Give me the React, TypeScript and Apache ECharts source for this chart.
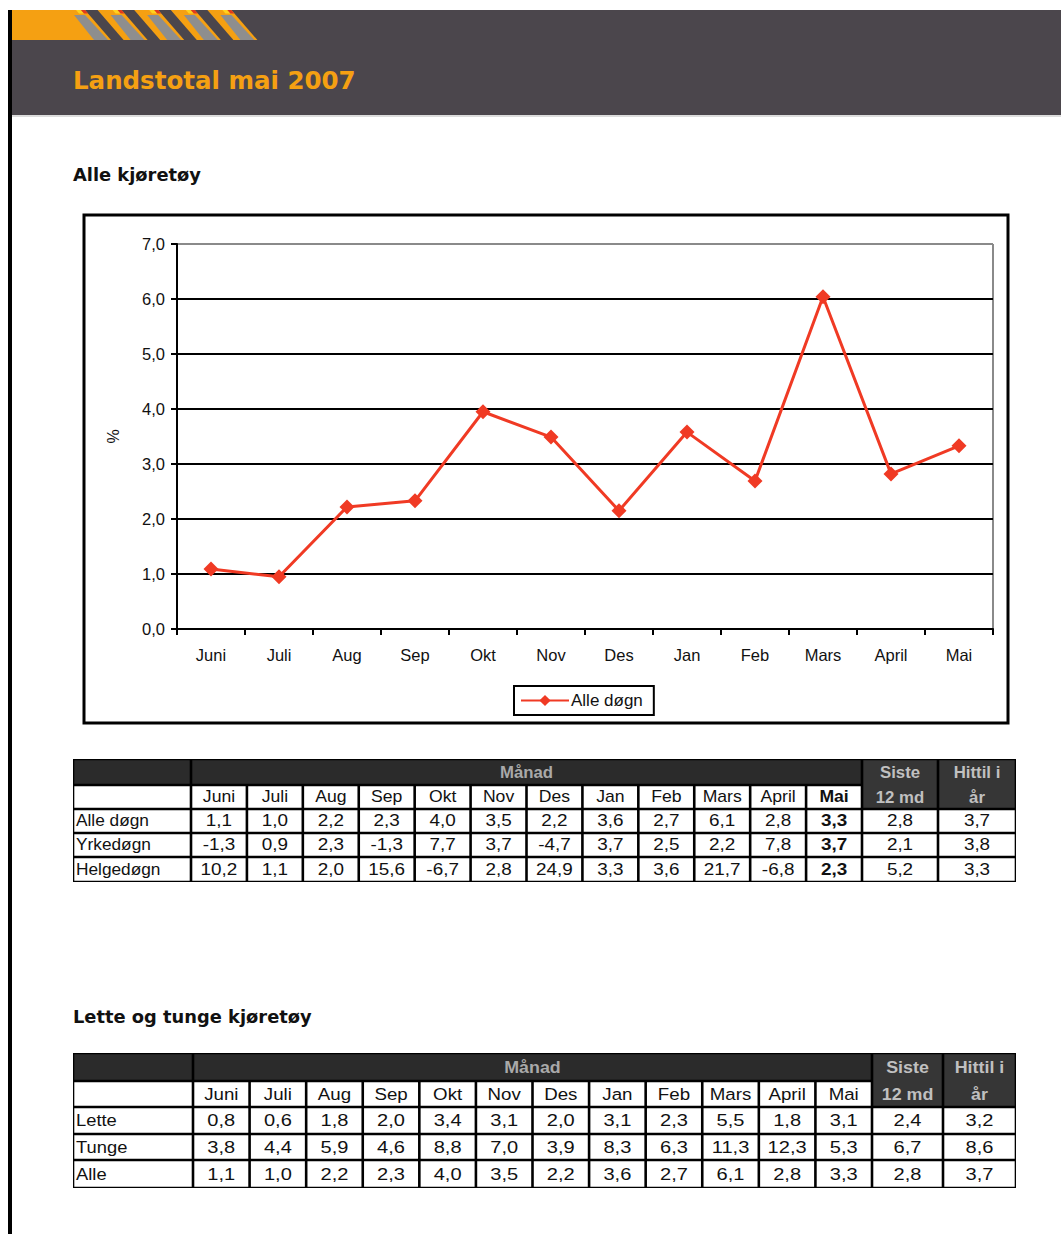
import React, { useEffect, useRef } from "react";
import * as echarts from "echarts";

const months = ["Juni", "Juli", "Aug", "Sep", "Okt", "Nov", "Des", "Jan", "Feb", "Mars", "April", "Mai"];
const lineValues = [1.09, 0.95, 2.22, 2.33, 3.95, 3.49, 2.15, 3.58, 2.69, 6.04, 2.82, 3.33];
const yTicks = [0, 7, 1];

const t1Labels = ["Alle døgn", "Yrkedøgn", "Helgedøgn"];
const t1Alle = [1.1, 1.0, 2.2, 2.3, 4.0, 3.5, 2.2, 3.6, 2.7, 6.1, 2.8, 3.3];
const t1Yrke = [-1.3, 0.9, 2.3, -1.3, 7.7, 3.7, -4.7, 3.7, 2.5, 2.2, 7.8, 3.7];
const t1Helg = [10.2, 1.1, 2.0, 15.6, -6.7, 2.8, 24.9, 3.3, 3.6, 21.7, -6.8, 2.3];
const t1Siste = [2.8, 2.1, 5.2];
const t1Hittil = [3.7, 3.8, 3.3];

const t2Labels = ["Lette", "Tunge", "Alle"];
const t2Lette = [0.8, 0.6, 1.8, 2.0, 3.4, 3.1, 2.0, 3.1, 2.3, 5.5, 1.8, 3.1];
const t2Tunge = [3.8, 4.4, 5.9, 4.6, 8.8, 7.0, 3.9, 8.3, 6.3, 11.3, 12.3, 5.3];
const t2Alle = [1.1, 1.0, 2.2, 2.3, 4.0, 3.5, 2.2, 3.6, 2.7, 6.1, 2.8, 3.3];
const t2Siste = [2.4, 6.7, 2.8];
const t2Hittil = [3.2, 8.6, 3.7];

const FONT = "Liberation Sans, Arial, sans-serif";
const fmt = (v: number) => v.toFixed(1).replace(".", ",");

type TableSpec = {
  x0: number; xLab: number; xMon: number; xSis: number; xEnd: number;
  rows: number[]; labels: string[]; data: number[][]; siste: number[]; hittil: number[];
  fontSize: number; boldMai: boolean;
};

function buildTable(s: TableSpec): any[] {
  const els: any[] = [];
  const b = 1.3;
  const colW = (s.xMon - s.xLab) / 12;
  const y0 = s.rows[0];
  const yEnd = s.rows[s.rows.length - 1];
  const cell = (x1: number, y1: number, x2: number, y2: number, fill: string) => ({
    type: "rect",
    shape: { x: x1 + b, y: y1 + b, width: x2 - x1 - 2 * b, height: y2 - y1 - 2 * b },
    style: { fill },
  });
  const txt = (text: string, x: number, y: number, opts: any = {}) => ({
    type: "text",
    x, y,
    scaleX: opts.scaleX || 1.18,
    style: {
      text,
      fontSize: opts.fontSize || s.fontSize,
      fontFamily: FONT,
      fontWeight: opts.bold ? "bold" : "normal",
      fill: opts.fill || "#111",
      align: opts.align || "center",
      verticalAlign: "middle",
    },
  });
  els.push({ type: "rect", shape: { x: s.x0, y: y0, width: s.xEnd - s.x0, height: yEnd - y0 }, style: { fill: "#000" } });
  els.push(cell(s.x0, s.rows[0], s.xLab, s.rows[1], "#2b2b2b"));
  els.push(cell(s.xLab, s.rows[0], s.xMon, s.rows[1], "#2b2b2b"));
  els.push(cell(s.xMon, s.rows[0], s.xSis, s.rows[2], "#363636"));
  els.push(cell(s.xSis, s.rows[0], s.xEnd, s.rows[2], "#363636"));
  els.push(cell(s.x0, s.rows[1], s.xLab, s.rows[2], "#fff"));
  for (let i = 0; i < 12; i++) {
    els.push(cell(s.xLab + colW * i, s.rows[1], s.xLab + colW * (i + 1), s.rows[2], "#fff"));
  }
  for (let r = 0; r < s.labels.length; r++) {
    const ya = s.rows[r + 2], yb = s.rows[r + 3];
    els.push(cell(s.x0, ya, s.xLab, yb, "#fff"));
    for (let i = 0; i < 12; i++) els.push(cell(s.xLab + colW * i, ya, s.xLab + colW * (i + 1), yb, "#fff"));
    els.push(cell(s.xMon, ya, s.xSis, yb, "#fff"));
    els.push(cell(s.xSis, ya, s.xEnd, yb, "#fff"));
  }
  const mid = (a: number, c: number) => (a + c) / 2;
  const hdrY0 = mid(s.rows[0], s.rows[1]);
  const hdrY1 = mid(s.rows[1], s.rows[2]);
  const hdr = { bold: true, fill: "#c0c0c0", scaleX: 1.05 };
  els.push(txt("Månad", mid(s.xLab, s.xMon), hdrY0, { ...hdr, fill: "#a9a9a9" }));
  els.push(txt("Siste", mid(s.xMon, s.xSis), hdrY0, hdr));
  els.push(txt("12 md", mid(s.xMon, s.xSis), hdrY1, hdr));
  els.push(txt("Hittil i", mid(s.xSis, s.xEnd), hdrY0, hdr));
  els.push(txt("år", mid(s.xSis, s.xEnd), hdrY1, hdr));
  months.forEach((m, i) => {
    els.push(txt(m, s.xLab + colW * (i + 0.5), hdrY1, { bold: s.boldMai && i === 11, scaleX: 1.1 }));
  });
  for (let r = 0; r < s.labels.length; r++) {
    const yc = mid(s.rows[r + 2], s.rows[r + 3]);
    els.push(txt(s.labels[r], s.x0 + 3, yc, { align: "left", scaleX: 1.08 }));
    s.data[r].forEach((v, i) => {
      els.push(txt(fmt(v), s.xLab + colW * (i + 0.5), yc, { bold: s.boldMai && i === 11 }));
    });
    els.push(txt(fmt(s.siste[r]), mid(s.xMon, s.xSis), yc));
    els.push(txt(fmt(s.hittil[r]), mid(s.xSis, s.xEnd), yc));
  }
  return els;
}

function buildHeader(): any[] {
  const els: any[] = [];
  els.push({ type: "rect", shape: { x: 12, y: 10, width: 1049, height: 105 }, style: { fill: "#4b464c" } });
  els.push({ type: "rect", shape: { x: 12, y: 115, width: 1049, height: 2 }, style: { fill: "#dcdcdc" } });
  els.push({ type: "rect", shape: { x: 8, y: 10, width: 4, height: 1224 }, style: { fill: "#000" } });
  for (let i = 0; i < 5; i++) {
    const a = 75 + 36.6 * i;
    const orange = i === 0
      ? [[12, 10], [a + 10, 10], [a + 36, 40], [12, 40]]
      : [[a - 14, 10], [a + 10, 10], [a + 36, 40], [a + 12, 40]];
    els.push({ type: "polygon", shape: { points: orange }, style: { fill: "#f5a012" } });
    els.push({ type: "polygon", shape: { points: [[a - 1, 15], [a + 10, 15], [a + 33, 40], [a + 19, 40]] }, style: { fill: "#8e8e8e" } });
    els.push({ type: "polygon", shape: { points: [[a + 1, 10], [a + 6, 10], [a + 9, 13.5], [a + 4, 13.5]] }, style: { fill: "#ffd21e" } });
    els.push({ type: "polygon", shape: { points: [[a + 6, 10], [a + 10, 10], [a + 13, 13.5], [a + 9, 13.5]] }, style: { fill: "#e03a1e" } });
  }
  els.push({
    type: "text", x: 73, y: 80,
    style: { text: "Landstotal mai 2007", fontSize: 24.5, fontWeight: "bold", fontFamily: "DejaVu Sans, sans-serif", fill: "#f5a012", align: "left", verticalAlign: "middle" },
  });
  els.push({
    type: "text", x: 73, y: 175, scaleX: 1.05,
    style: { text: "Alle kjøretøy", fontSize: 17, fontWeight: "bold", fontFamily: "DejaVu Sans, sans-serif", fill: "#111", align: "left", verticalAlign: "middle" },
  });
  els.push({
    type: "text", x: 73, y: 1017, scaleX: 1.05,
    style: { text: "Lette og tunge kjøretøy", fontSize: 17, fontWeight: "bold", fontFamily: "DejaVu Sans, sans-serif", fill: "#111", align: "left", verticalAlign: "middle" },
  });
  els.push({ type: "rect", shape: { x: 84, y: 215, width: 924, height: 508 }, style: { fill: "none", stroke: "#000", lineWidth: 3 } });
  els.push({ type: "line", shape: { x1: 993, y1: 244, x2: 993, y2: 629 }, style: { stroke: "#8a8a8a", lineWidth: 2 } });
  return els;
}

export default function App() {
  const ref = useRef<HTMLDivElement>(null);
  useEffect(() => {
    document.body.style.margin = "0";
    const chart = echarts.init(ref.current!, null, { renderer: "svg" });
    const table1 = buildTable({
      x0: 73, xLab: 191, xMon: 862, xSis: 938, xEnd: 1016,
      rows: [759, 785, 809, 833, 857, 882],
      labels: t1Labels, data: [t1Alle, t1Yrke, t1Helg], siste: t1Siste, hittil: t1Hittil,
      fontSize: 16, boldMai: true,
    });
    const table2 = buildTable({
      x0: 73, xLab: 193, xMon: 872, xSis: 943, xEnd: 1016,
      rows: [1053, 1081, 1107, 1134, 1160, 1188],
      labels: t2Labels, data: [t2Lette, t2Tunge, t2Alle], siste: t2Siste, hittil: t2Hittil,
      fontSize: 17, boldMai: false,
    });
    const splitColors = ["#000", "#000", "#000", "#000", "#000", "#000", "#000", "#8a8a8a"];
    chart.setOption({
      animation: false,
      backgroundColor: "#fff",
      grid: { left: 177, top: 244, width: 816, height: 385, containLabel: false },
      legend: {
        left: 514, top: 686,
        padding: [6, 11, 6, 6],
        borderColor: "#000", borderWidth: 2,
        itemWidth: 48, itemHeight: 14, itemGap: 2,
        textStyle: { fontSize: 17, color: "#111", fontFamily: FONT, padding: [0, 0, 0, -3] },
        data: ["Alle døgn"],
      },
      xAxis: {
        type: "category",
        data: months,
        boundaryGap: true,
        axisLine: { lineStyle: { color: "#000", width: 2 } },
        axisTick: { show: true, length: 6, interval: 0, lineStyle: { color: "#000", width: 2 } },
        axisLabel: { fontSize: 16.5, color: "#111", fontFamily: FONT, margin: 17, interval: 0 },
      },
      yAxis: {
        type: "value",
        min: yTicks[0], max: yTicks[1], interval: yTicks[2],
        name: "%",
        nameLocation: "middle",
        nameGap: 56,
        nameTextStyle: { fontSize: 16, color: "#111", fontFamily: FONT },
        axisLine: { show: true, lineStyle: { color: "#000", width: 2 } },
        axisTick: { show: true, length: 6, lineStyle: { color: "#000", width: 2 } },
        axisLabel: { fontSize: 16.5, color: "#111", fontFamily: FONT, margin: 12, formatter: (v: number) => fmt(v) },
        splitLine: { show: true, lineStyle: { color: splitColors, width: 2 } },
      },
      series: [
        {
          name: "Alle døgn",
          type: "line",
          data: lineValues,
          symbol: "diamond",
          symbolSize: 15,
          itemStyle: { color: "#f03a24" },
          lineStyle: { color: "#f03a24", width: 3 },
        },
      ],
      graphic: { elements: [...buildHeader(), ...table1, ...table2] },
    });
    return () => chart.dispose();
  }, []);
  return <div ref={ref} style={{ position: "absolute", left: 0, top: 0, width: 1061, height: 1234 }} />;
}
